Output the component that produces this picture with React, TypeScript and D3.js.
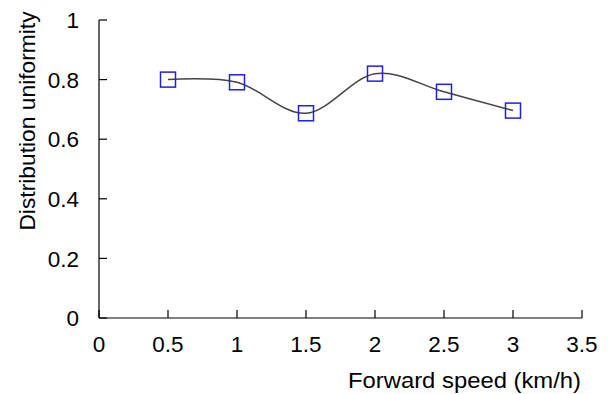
import React from "react";
import * as d3 from "d3";

const speeds = [0.5, 1, 1.5, 2, 2.5, 3];
const uniformity = [0.8, 0.791, 0.687, 0.82, 0.759, 0.696];
const xTicks = [0, 0.5, 1, 1.5, 2, 2.5, 3, 3.5];
const yTicks = [0, 0.2, 0.4, 0.6, 0.8, 1];

const W = 608;
const H = 394;
const FONT = "Liberation Sans, Arial, sans-serif";

export default function App() {
  const x = d3.scaleLinear().domain([0, 3.5]).range([99, 582]);
  const y = d3.scaleLinear().domain([0, 1]).range([318, 20]);
  const pts: [number, number][] = speeds.map((s, i) => [s, uniformity[i]]);
  const line = d3
    .line<[number, number]>()
    .x((d) => x(d[0]))
    .y((d) => y(d[1]))
    .curve(d3.curveCardinal.tension(0));
  const ms = 15;
  return (
    <svg
      width={W}
      height={H}
      style={{ position: "absolute", left: 0, top: 0, background: "#fff" }}
    >
      <line x1={x(0)} x2={x(0)} y1={y(1)} y2={y(0)} stroke="#000" strokeWidth={1.2} />
      <line x1={x(0)} x2={x(3.5)} y1={y(0)} y2={y(0)} stroke="#000" strokeWidth={1.2} />
      {yTicks.map((t) => (
        <g key={"y" + t}>
          <line x1={x(0)} x2={x(0) + 8} y1={y(t)} y2={y(t)} stroke="#000" strokeWidth={1.2} />
          <text
            x={79}
            y={y(t)}
            dy="0.36em"
            textAnchor="end"
            fontFamily={FONT}
            fontSize={22.5}
            fill="#000"
          >
            {String(t)}
          </text>
        </g>
      ))}
      {xTicks.map((t) => (
        <g key={"x" + t}>
          <line x1={x(t)} x2={x(t)} y1={y(0)} y2={y(0) - 8} stroke="#000" strokeWidth={1.2} />
          <text
            x={x(t)}
            y={352}
            textAnchor="middle"
            fontFamily={FONT}
            fontSize={22.5}
            fill="#000"
          >
            {String(t)}
          </text>
        </g>
      ))}
      <text
        transform={`translate(35,121) rotate(-90)`}
        textAnchor="middle"
        fontFamily={FONT}
        fontSize={22.8}
        fill="#000"
      >
        Distribution uniformity
      </text>
      <text
        x={581}
        y={388}
        textAnchor="end"
        fontFamily={FONT}
        fontSize={22.5}
        fill="#000"
        textLength={233}
        lengthAdjust="spacingAndGlyphs"
      >
        Forward speed (km/h)
      </text>
      <path d={line(pts) || ""} fill="none" stroke="#444" strokeWidth={1.5} />
      {pts.map((p, i) => (
        <rect
          key={i}
          x={x(p[0]) - ms / 2}
          y={y(p[1]) - ms / 2}
          width={ms}
          height={ms}
          fill="none"
          stroke="#1f1fe0"
          strokeWidth={1.5}
        />
      ))}
    </svg>
  );
}
